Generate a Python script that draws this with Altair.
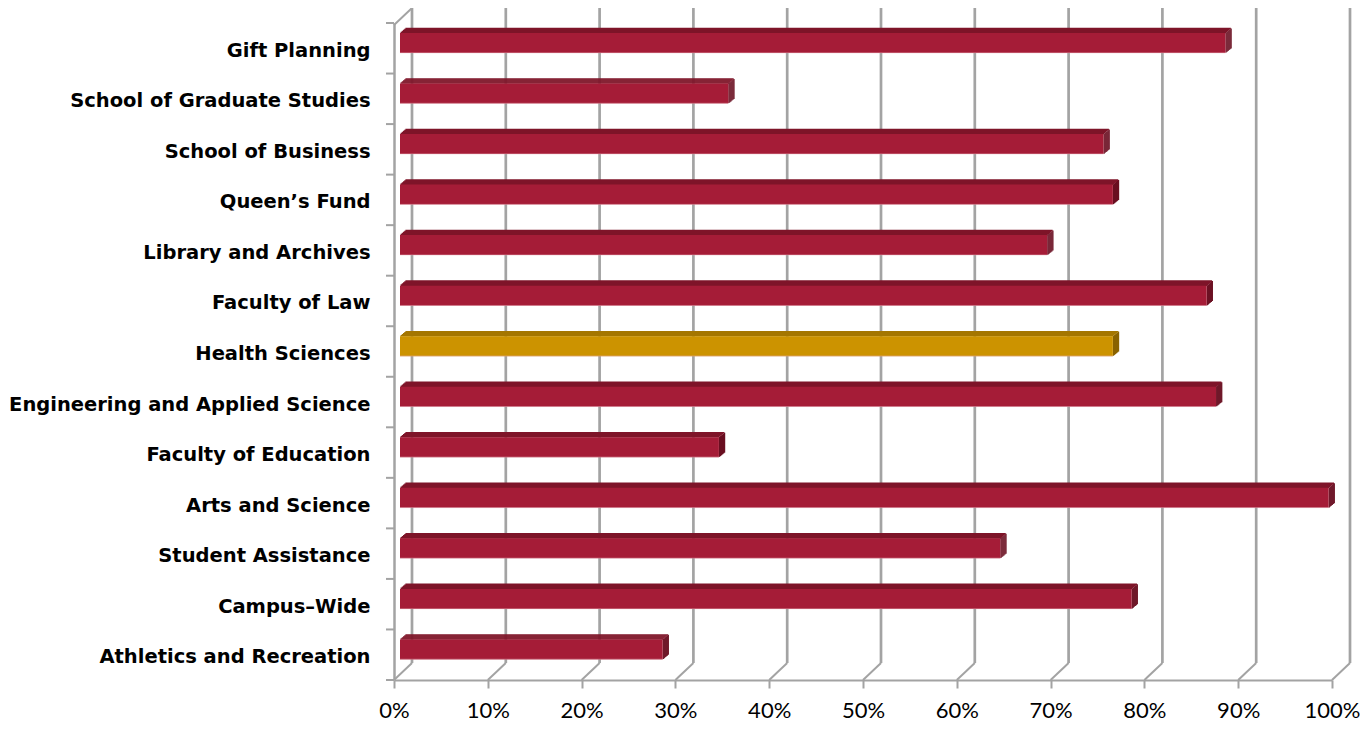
import altair as alt
import pandas as pd

categories = [
    "Gift Planning",
    "School of Graduate Studies",
    "School of Business",
    "Queen’s Fund",
    "Library and Archives",
    "Faculty of Law",
    "Health Sciences",
    "Engineering and Applied Science",
    "Faculty of Education",
    "Arts and Science",
    "Student Assistance",
    "Campus–Wide",
    "Athletics and Recreation",
]
values = [0.88, 0.35, 0.75, 0.76, 0.69, 0.86, 0.76, 0.87, 0.34, 0.99, 0.64, 0.78, 0.28]
tick_values = [0.0, 0.1, 0.2, 0.3, 0.4, 0.5, 0.6, 0.7, 0.8, 0.9, 1.0]
highlight = "Health Sciences"

W, H = 938, 657
STEP = H / len(categories)
DX, DY = 18, 17          # wall depth (oblique projection)
GRID = "#a3a3a3"
RED = ("#a51c37", "#7e1429", "#6a0f21")
GOLD = ("#cc9300", "#a47600", "#8a6300")

df = pd.DataFrame({"cat": categories, "val": values, "zero": [0] * len(values)})
ticks_df = pd.DataFrame({"t": tick_values})
one = pd.DataFrame({"a": [0]})

x_scale = alt.Scale(domain=[0, 1], nice=False)
y_scale = alt.Scale(type="point", padding=0.5, domain=categories)

x_axis = alt.Axis(values=tick_values, format=".0%", domainColor=GRID, domainWidth=2,
                  tickColor=GRID, tickWidth=2, tickSize=8, labelFont="Lato",
                  labelFontSize=22, labelColor="black", labelPadding=12, grid=False,
                  labelFlush=False, title=None)
y_axis = alt.Axis(title=None, ticks=False, domainColor=GRID, domainWidth=2.5,
                  labelFont="DejaVu Sans", labelFontWeight="bold", labelFontSize=19.5,
                  labelColor="black", labelPadding=24, labelLimit=400, labelOffset=2)


def col(i):
    return (alt.when(alt.datum.cat == highlight)
            .then(alt.value(GOLD[i]))
            .otherwise(alt.value(RED[i])))


Y = alt.Y("cat:N", scale=y_scale, sort=categories, axis=y_axis)
X = alt.X("val:Q", scale=x_scale, axis=x_axis)

grid = alt.Chart(ticks_df).mark_rule(color=GRID, strokeWidth=2.7, xOffset=DX).encode(
    x=alt.X("t:Q", scale=x_scale, axis=x_axis), y=alt.value(2 - DY), y2=alt.value(H - DY))
floor = alt.Chart(ticks_df).mark_rule(color=GRID, strokeWidth=2, x2Offset=DX).encode(
    x=alt.X("t:Q", scale=x_scale, axis=x_axis), x2=alt.X2("t"),
    y=alt.value(H), y2=alt.value(H - DY))
top_diag = alt.Chart(one).mark_rule(color=GRID, strokeWidth=2).encode(
    x=alt.value(0), x2=alt.value(DX), y=alt.value(2), y2=alt.value(2 - DY))
ytick = alt.Chart(df).mark_rule(color=GRID, strokeWidth=2, yOffset=-STEP / 2).encode(
    y=Y, x=alt.value(-8), x2=alt.value(0))
ytick_last = alt.Chart(one).mark_rule(color=GRID, strokeWidth=2).encode(
    y=alt.value(H), x=alt.value(-8), x2=alt.value(0))

front = alt.Chart(df).mark_rule(strokeWidth=20, xOffset=6, x2Offset=6, yOffset=-5.3).encode(
    x=X, x2=alt.X2("zero"), y=Y, color=col(0))
edge = alt.Chart(df).mark_rule(strokeWidth=1, xOffset=6, x2Offset=6, yOffset=4.5, opacity=0.5).encode(
    x=X, x2=alt.X2("zero"), y=Y, color=alt.value("#e8aab5"))

tops = []
for i in range(5):
    off = 6 + (i + 0.5) * 1.2
    tops.append(alt.Chart(df).mark_rule(strokeWidth=1.6, xOffset=off, x2Offset=off,
                                        yOffset=-15.8 - i).encode(
        x=X, x2=alt.X2("zero"), y=Y, color=col(1)))
sides = []
for j in range(6):
    sides.append(alt.Chart(df).mark_rule(strokeWidth=20, xOffset=6 + j, x2Offset=7.3 + j,
                                         yOffset=-5.3 - (j + 0.5) * 0.83).encode(
        x=X, x2=alt.X2("val"), y=Y, color=col(2)))

chart = alt.layer(
    grid, floor, top_diag, ytick, ytick_last, *sides, *tops, front, edge
).properties(
    width=W, height=H,
    autosize=alt.AutoSizeParams(type="none"),
    padding={"left": 386, "top": 15, "right": 28, "bottom": 43},
).configure_view(stroke=None)

chart.save("out.html", embed_options={"renderer": "svg", "actions": False})
